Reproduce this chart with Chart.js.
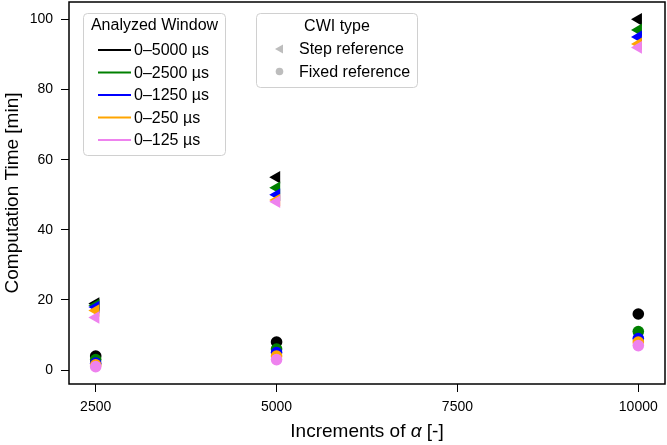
<!DOCTYPE html>
<html>
<head>
<meta charset="utf-8">
<script src="https://cdn.jsdelivr.net/npm/chart.js@4/dist/chart.umd.min.js"></script>
<style>
  html, body { margin: 0; padding: 0; background: #fff; }
  #wrap { width: 667px; height: 445px; position: relative; }
</style>
</head>
<body>
<div id="wrap"><canvas id="c" width="667" height="445"></canvas></div>
<script>
// ---- data ----
const increments = [2500, 5000, 10000];
const xTicks = [2500, 5000, 7500, 10000];
const yTicks = [0, 20, 40, 60, 80, 100];
const windowLabels = ['0–5000 µs', '0–2500 µs', '0–1250 µs', '0–250 µs', '0–125 µs'];
const windowColors = ['#000000', '#008000', '#0000ff', '#ffa500', '#ee82ee'];
const step5000 = [19, 55, 100];
const step2500 = [18.5, 52, 97];
const step1250 = [18, 50, 95];
const step250 = [17, 48.5, 93];
const step125 = [15, 48, 92];
const fixed5000 = [4, 8, 16];
const fixed2500 = [3, 6, 11];
const fixed1250 = [2, 5, 9];
const fixed250 = [1.5, 4, 8];
const fixed125 = [1, 3, 7];
const cwiLabels = ['Step reference', 'Fixed reference'];

const stepSeries = [step5000, step2500, step1250, step250, step125];
const fixedSeries = [fixed5000, fixed2500, fixed1250, fixed250, fixed125];

const FONT = "'Liberation Sans', Arial, sans-serif";

const datasets = [];
windowLabels.forEach((lab, i) => {
  datasets.push({
    label: lab + ' step',
    data: increments.map((x, k) => ({x: x, y: stepSeries[i][k]})),
    pointStyle: 'triangle',
    rotation: -90,
    radius: 7.3,
    backgroundColor: windowColors[i],
    borderColor: windowColors[i],
    borderWidth: 0,
    order: 10 - i
  });
  datasets.push({
    label: lab + ' fixed',
    data: increments.map((x, k) => ({x: x, y: fixedSeries[i][k]})),
    pointStyle: 'circle',
    radius: 5.8,
    backgroundColor: windowColors[i],
    borderColor: windowColors[i],
    borderWidth: 0,
    order: 10 - i
  });
});

function roundRect(ctx, x, y, w, h, r) {
  ctx.beginPath();
  ctx.moveTo(x + r, y);
  ctx.lineTo(x + w - r, y);
  ctx.quadraticCurveTo(x + w, y, x + w, y + r);
  ctx.lineTo(x + w, y + h - r);
  ctx.quadraticCurveTo(x + w, y + h, x + w - r, y + h);
  ctx.lineTo(x + r, y + h);
  ctx.quadraticCurveTo(x, y + h, x, y + h - r);
  ctx.lineTo(x, y + r);
  ctx.quadraticCurveTo(x, y, x + r, y);
  ctx.closePath();
}

const framePlugin = {
  id: 'frame',
  afterDatasetsDraw(chart) {
    const {ctx, chartArea: a} = chart;
    ctx.save();
    ctx.strokeStyle = '#000';
    ctx.lineWidth = 1.5;
    ctx.strokeRect(a.left, a.top, a.right - a.left, a.bottom - a.top);
    ctx.restore();
  }
};

const xTitlePlugin = {
  id: 'xTitle',
  afterDraw(chart) {
    const {ctx, chartArea: a} = chart;
    const parts = [
      {t: 'Increments of ', f: '19px ' + FONT},
      {t: 'α', f: 'italic 19px ' + FONT},
      {t: ' [-]', f: '19px ' + FONT}
    ];
    ctx.save();
    let total = 0;
    parts.forEach(p => { ctx.font = p.f; p.w = ctx.measureText(p.t).width; total += p.w; });
    let x = (a.left + a.right) / 2 - total / 2;
    ctx.fillStyle = '#000';
    ctx.textBaseline = 'middle';
    ctx.textAlign = 'left';
    parts.forEach(p => { ctx.font = p.f; ctx.fillText(p.t, x, 432); x += p.w; });
    ctx.restore();
  }
};

const legendPlugin = {
  id: 'customLegends',
  afterDraw(chart) {
    const ctx = chart.ctx;
    ctx.save();
    // Box 1: Analyzed Window
    roundRect(ctx, 83.5, 13.5, 142, 142, 4);
    ctx.fillStyle = 'rgba(255,255,255,0.85)';
    ctx.fill();
    ctx.strokeStyle = '#d0d0d0';
    ctx.lineWidth = 1;
    ctx.stroke();
    ctx.fillStyle = '#000';
    ctx.font = '16px ' + FONT;
    ctx.textBaseline = 'middle';
    ctx.textAlign = 'center';
    ctx.fillText('Analyzed Window', 154.5, 25.5);
    ctx.textAlign = 'left';
    const ys = [50, 72.5, 95, 117.5, 140];
    windowLabels.forEach((lab, i) => {
      ctx.strokeStyle = windowColors[i];
      ctx.lineWidth = 2;
      ctx.beginPath();
      ctx.moveTo(98, ys[i]);
      ctx.lineTo(131, ys[i]);
      ctx.stroke();
      ctx.fillStyle = '#000';
      ctx.fillText(lab, 134, ys[i] + 1);
    });

    // Box 2: CWI type
    roundRect(ctx, 256.5, 13.5, 161, 74, 4);
    ctx.fillStyle = 'rgba(255,255,255,0.85)';
    ctx.fill();
    ctx.strokeStyle = '#d0d0d0';
    ctx.lineWidth = 1;
    ctx.stroke();
    ctx.fillStyle = '#000';
    ctx.textAlign = 'center';
    ctx.fillText('CWI type', 337, 26.5);
    ctx.textAlign = 'left';
    ctx.fillText(cwiLabels[0], 299, 50);
    ctx.fillText(cwiLabels[1], 299, 72.5);
    // gray markers
    ctx.fillStyle = '#bdbdbd';
    ctx.beginPath();
    ctx.moveTo(275, 49);
    ctx.lineTo(283, 44.5);
    ctx.lineTo(283, 53.5);
    ctx.closePath();
    ctx.fill();
    ctx.beginPath();
    ctx.arc(279.5, 71.5, 3.8, 0, Math.PI * 2);
    ctx.fill();
    ctx.restore();
  }
};

new Chart(document.getElementById('c'), {
  type: 'scatter',
  data: { datasets: datasets },
  options: {
    responsive: false,
    animation: false,
    devicePixelRatio: 1,
    layout: { autoPadding: false, padding: { top: 2, right: 2, left: 0, bottom: 0 } },
    plugins: { legend: { display: false }, tooltip: { enabled: false } },
    scales: {
      x: {
        type: 'linear',
        min: 2131,
        max: 10369,
        afterFit(s) { s.height = 61; s.paddingLeft = 0; s.paddingRight = 0; },
        afterBuildTicks(s) { s.ticks = xTicks.map(v => ({value: v})); },
        grid: { display: true, drawOnChartArea: false, drawTicks: true, tickLength: 8, color: '#000', lineWidth: 1 },
        border: { display: false },
        ticks: { color: '#000', font: { family: FONT, size: 14 }, padding: 7, maxRotation: 0, autoSkip: false,
                 callback: v => String(v) },
        title: { display: false }
      },
      y: {
        type: 'linear',
        min: -3.95,
        max: 104.95,
        afterFit(s) { s.width = 69; s.paddingTop = 0; s.paddingBottom = 0; },
        afterBuildTicks(s) { s.ticks = yTicks.map(v => ({value: v})); },
        grid: { display: true, drawOnChartArea: false, drawTicks: true, tickLength: 8, color: '#000', lineWidth: 1 },
        border: { display: false },
        ticks: { color: '#000', font: { family: FONT, size: 14 }, padding: 8, autoSkip: false,
                 callback: v => String(v) },
        title: { display: true, text: 'Computation Time [min]', color: '#000', font: { family: FONT, size: 19 }, padding: { top: 1, bottom: 0 } }
      }
    }
  },
  plugins: [framePlugin, xTitlePlugin, legendPlugin]
});
</script>
</body>
</html>
